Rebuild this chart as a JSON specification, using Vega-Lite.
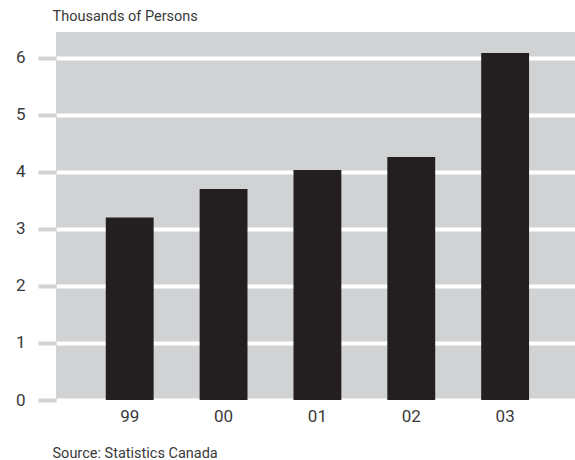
{
  "$schema": "https://vega.github.io/schema/vega-lite/v6.json",
  "width": 519,
  "height": 368,
  "autosize": {"type": "none"},
  "padding": {"left": 56, "top": 32, "right": 0, "bottom": 60},
  "background": "white",
  "config": {
    "view": {"fill": "#d1d2d4", "stroke": null},
    "font": "Roboto"
  },
  "data": {
    "values": [
      {"year": "99", "persons": 3.2},
      {"year": "00", "persons": 3.7},
      {"year": "01", "persons": 4.03},
      {"year": "02", "persons": 4.26},
      {"year": "03", "persons": 6.08}
    ]
  },
  "mark": {"type": "bar", "color": "#231f20"},
  "encoding": {
    "x": {
      "field": "year",
      "type": "ordinal",
      "sort": null,
      "scale": {"paddingInner": 0.49, "paddingOuter": 0.51, "align": 0.52},
      "axis": {
        "title": "Source: Statistics Canada",
        "titleFont": "Roboto",
        "titleFontSize": 14.5,
        "titleFontWeight": "normal",
        "titleColor": "#3a3a3a",
        "titleAnchor": "start",
        "titleAlign": "left",
        "titleBaseline": "alphabetic",
        "titleX": -4,
        "titleY": 57,
        "labelFont": "Roboto",
        "labelAngle": 0,
        "labelFontSize": 17,
        "labelColor": "#3a3a3a",
        "labelPadding": 8,
        "ticks": false,
        "domain": false,
        "grid": false
      }
    },
    "y": {
      "field": "persons",
      "type": "quantitative",
      "scale": {"domain": [0, 6.45], "nice": false},
      "axis": {
        "values": [0, 1, 2, 3, 4, 5, 6],
        "title": "Thousands of Persons",
        "titleFont": "Roboto",
        "titleFontSize": 14.5,
        "titleFontWeight": "normal",
        "titleColor": "#3a3a3a",
        "titleAngle": 0,
        "titleAlign": "left",
        "titleBaseline": "alphabetic",
        "titleAnchor": "end",
        "titleX": -4,
        "titleY": -12,
        "labelFont": "Roboto",
        "labelFontSize": 17,
        "labelColor": "#3a3a3a",
        "labelPadding": 13,
        "tickSize": 18,
        "tickWidth": 4,
        "tickColor": "#d1d2d4",
        "domain": false,
        "grid": true,
        "gridColor": "white",
        "gridWidth": 4
      }
    }
  }
}
